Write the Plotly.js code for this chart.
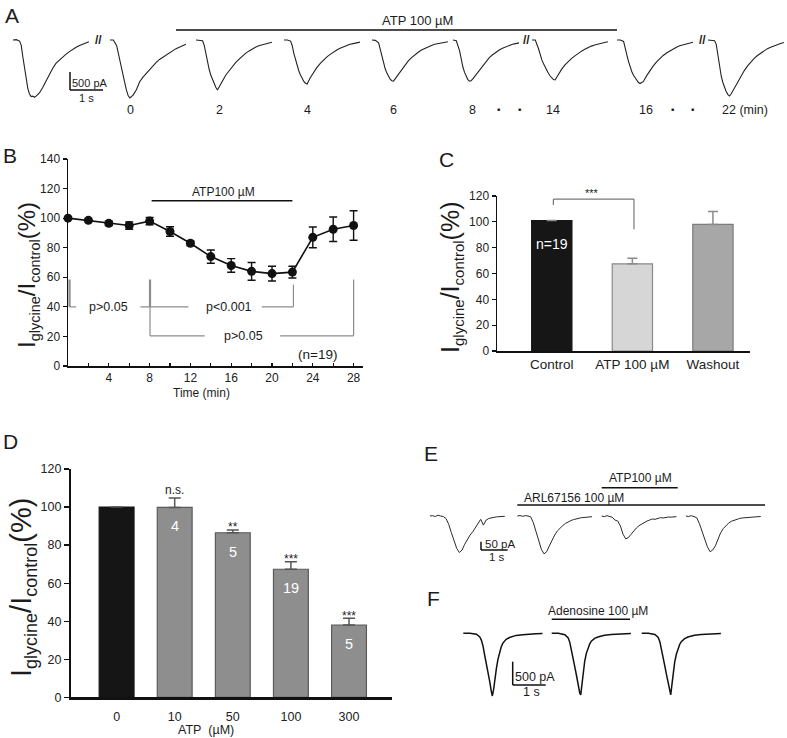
<!DOCTYPE html>
<html><head><meta charset="utf-8">
<script src="https://cdn.plot.ly/plotly-3.0.1.min.js"></script>
<style>html,body{margin:0;padding:0;background:#fff}#chart{width:787px;height:738px}</style>
</head><body><div id="chart"></div>
<script>
// ================= DATA =================
// Panel A: glycine-evoked currents (pA) sampled at these times (s) from sweep start
const sweepTimeA = [0,0.1,0.2,0.25,0.3,0.35,0.4,0.45,0.5,0.55,0.6,0.65,0.7,0.8,0.9,1.0,1.1,1.2,1.3,1.4,1.5,1.6,1.7,1.8,1.9,2.0,2.1,2.2,2.3];
const sweepA_pre = [0,10,-30,-150,-480,-820,-1120,-1350,-1500,-1570,-1560,-1590,-1560,-1470,-1320,-1130,-960,-790,-650,-560,-470,-400,-330,-260,-210,-160,-120,-80,-50];
const sweepA_0   = [0,0,-150,-380,-600,-800,-1000,-1200,-1400,-1540,-1610,-1580,-1530,-1380,-1160,-1030,-920,-810,-700,-620,-540,-480,-410,-350,-290,-240,-200,-150,-120];
const sweepA_2   = [0,0,-20,-150,-400,-620,-820,-980,-1100,-1220,-1310,-1390,-1300,-1130,-980,-860,-740,-630,-540,-450,-370,-310,-250,-200,-160,-130,-100,-80,-60];
const sweepA_4   = [0,0,-30,-160,-380,-560,-720,-860,-970,-1070,-1150,-1200,-1220,-1040,-880,-760,-650,-550,-470,-400,-330,-280,-230,-190,-150,-120,-100,-80,-60];
const sweepA_6   = [0,-10,-80,-260,-480,-650,-800,-920,-1020,-1090,-1130,-1140,-1080,-950,-810,-690,-580,-490,-410,-340,-280,-230,-190,-150,-120,-100,-80,-60,-50];
const sweepA_8   = [0,-20,-300,-550,-750,-900,-1020,-1100,-1140,-1130,-1080,-1020,-960,-830,-700,-590,-490,-410,-340,-280,-230,-190,-150,-120,-100,-80];
const sweepA_14  = [0,0,-250,-420,-560,-660,-760,-850,-930,-1000,-1060,-1100,-1110,-950,-810,-690,-590,-510,-440,-370,-310,-260,-210,-170,-140,-110,-90,-70,-50];
const sweepA_16  = [0,0,-40,-200,-420,-600,-760,-880,-980,-1060,-1130,-1180,-1210,-1150,-990,-850,-720,-610,-510,-430,-360,-300,-250,-200,-160,-130,-100,-80,-60];
const sweepA_22  = [0,0,-20,-120,-420,-760,-1000,-1180,-1320,-1430,-1510,-1556,-1500,-1330,-1150,-990,-850,-720,-610,-510,-430,-360,-300,-240,-200,-160,-130,-100,-70];
const sweepLabelsA = ['0','2','4','6','8','14','16','22 (min)'];

// Panel B: time course (mean ± SEM, % of control)
const timeB = [0,2,4,6,8,10,12,14,16,18,20,22,24,26,28];
const meanB = [100,98.5,96.5,95,98,91,83,74,68,64,62.5,63.5,87,92.5,95];
const semB  = [0.5,1,1.5,2.5,2.5,3.2,1.5,4.5,4.6,6,5,4,7,8.3,10];
const tickLabelsB = [4,8,12,16,20,24,28];

// Panel C: summary
const catsC = ['Control','ATP 100 µM','Washout'];
const valsC = [101,67.5,98];
const errC  = [null,4.3,10];

// Panel D: concentration dependence
const catsD = ['0','10','50','100','300'];
const valsD = [100,99.8,86.5,67.3,38];
const errD  = [null,5,1.5,4,3.5];
const nD    = ['','4','5','19','5'];
const sigD  = ['','n.s.','**','***','***'];

// Panel E: currents (pA) with ARL67156 / ATP
const sweepTimeE = [0,0.1,0.2,0.3,0.4,0.5,0.6,0.7,0.8,0.9,1.0,1.1,1.2,1.3,1.4,1.5,1.6,1.7,1.8,1.9,2.0,2.1,2.2,2.3,2.4,2.5,2.6,2.7,2.8];
const sweepE_ctrl = [0,2,-3,5,0,-3,-15,-50,-100,-150,-195,-220,-205,-170,-140,-115,-95,-70,-50,-20,-55,-25,-15,-10,-8,-5,-4,-3,-2];
const sweepE_arl  = [0,3,-2,2,0,-5,-40,-90,-150,-200,-228,-215,-180,-145,-115,-90,-72,-58,-45,-35,-28,-22,-17,-13,-10,-9,-6,-5,-4];
const sweepE_atp  = [0,-4,2,-3,-8,-25,-30,-60,-110,-138,-130,-110,-90,-72,-58,-48,-40,-30,-24,-18,-20,-14,-10,-12,-8,-6,-7,-4,-4];
const sweepE_wash = [0,-3,2,-2,-10,-45,-95,-140,-185,-215,-205,-180,-140,-100,-75,-55,-42,-32,-25,-20,-15,-12,-10,-9,-7,-5,-6,-4,-3];

// Panel F: currents (pA) with adenosine
const sweepTimeF = [0,0.2,0.4,0.5,0.55,0.6,0.65,0.7,0.75,0.8,0.85,0.88,0.92,0.96,1.0,1.05,1.1,1.15,1.2,1.3,1.4,1.5,1.6,1.8,2.0,2.2,2.4];
const sweepF_ctrl = [0,0,-20,-80,-150,-280,-480,-650,-830,-1030,-1250,-1345,-1200,-950,-770,-560,-400,-290,-210,-130,-90,-65,-45,-30,-15,-10,-5];
const sweepF_ado  = [0,0,-30,-100,-200,-350,-540,-720,-900,-1100,-1280,-1320,-1050,-800,-600,-430,-310,-230,-170,-110,-80,-55,-40,-25,-15,-8,-5];
const sweepF_wash = [0,0,-25,-90,-180,-330,-520,-700,-880,-1080,-1270,-1320,-1080,-830,-620,-450,-320,-240,-180,-115,-80,-55,-40,-25,-15,-8,-5];

// ================= LAYOUT HELPERS =================
const W = 787, H = 738;
const FONT = 'Liberation Sans, Arial, Helvetica, sans-serif';
const px = x => x / W, py = y => 1 - y / H;
function yRange(topPx, botPx, zeroPx, pxPerUnit){ return [-(botPx - zeroPx) / pxPerUnit, (zeroPx - topPx) / pxPerUnit]; }
const INK = '#1c1c1c';

// trace-panel geometry (pixel scales)
const A = {secPx:33, pAPx:18/500, zero:40, top:12, bot:122, starts:[13,110,196,284,372,453,532,617,708]};
const E = {left:420, secPx:26.7, pAPx:8.3/50, zero:516, top:468, bot:578, starts:[430,517.3,601.7,686]};
const F = {left:420, secPx:33, pAPx:23.3/500, zero:633.3, top:598, bot:718, starts:[463.3,551.7,641.7]};

const traces = [];
const sweepsA = [sweepA_pre,sweepA_0,sweepA_2,sweepA_4,sweepA_6,sweepA_8,sweepA_14,sweepA_16,sweepA_22];
sweepsA.forEach((v,i)=>{
  const off = A.starts[i]/A.secPx;
  traces.push({type:'scatter',mode:'lines',xaxis:'x',yaxis:'y',
    x: sweepTimeA.slice(0,v.length).map(t=>t+off), y: v,
    line:{color:'#222',width:1.1},hoverinfo:'skip',showlegend:false});
});
[sweepE_ctrl,sweepE_arl,sweepE_atp,sweepE_wash].forEach((v,i)=>{
  const off = (E.starts[i]-E.left)/E.secPx;
  traces.push({type:'scatter',mode:'lines',xaxis:'x5',yaxis:'y5',
    x: sweepTimeE.map(t=>t+off), y: v, line:{color:'#2a2a2a',width:1},hoverinfo:'skip',showlegend:false});
});
[sweepF_ctrl,sweepF_ado,sweepF_wash].forEach((v,i)=>{
  const off = (F.starts[i]-F.left)/F.secPx;
  traces.push({type:'scatter',mode:'lines',xaxis:'x6',yaxis:'y6',
    x: sweepTimeF.map(t=>t+off), y: v, line:{color:'#111',width:1.5},hoverinfo:'skip',showlegend:false});
});
// Panel B
traces.push({type:'scatter',mode:'lines+markers',xaxis:'x2',yaxis:'y2',x:timeB,y:meanB,
  line:{color:'#111',width:1.6},marker:{color:'#111',size:9},
  error_y:{type:'data',array:semB,color:'#111',thickness:1.4,width:4},cliponaxis:false,showlegend:false});
// Panel C
traces.push({type:'bar',xaxis:'x3',yaxis:'y3',x:[0,1,2],y:valsC,width:0.5,
  marker:{color:['#161616','#d6d6d6','#a7a7a7'],line:{color:['#161616','#8a8a8a','#7c7c7c'],width:1.2}},
  error_y:{type:'data',symmetric:false,array:errC,arrayminus:[0,0,0],color:'#8a8a8a',thickness:1.5,width:5},showlegend:false});
// Panel D
traces.push({type:'bar',xaxis:'x4',yaxis:'y4',x:[0,1,2,3,4],y:valsD,width:0.6,
  marker:{color:['#151515','#8e8e8e','#8e8e8e','#8e8e8e','#8e8e8e'],line:{color:['#151515','#5a5a5a','#5a5a5a','#5a5a5a','#5a5a5a'],width:1.2}},
  error_y:{type:'data',symmetric:false,array:errD,arrayminus:[0,0,0,0,0],color:'#555',thickness:1.5,width:6},showlegend:false});

// ================= AXES =================
const hid = (domain, range, anchor) => ({domain, range, anchor, visible:false, fixedrange:true});
const axBase = {showline:true, linecolor:'#111', showgrid:false, zeroline:false, tickcolor:'#111',
  tickfont:{family:FONT,size:12,color:'#222'}, fixedrange:true};

const layout = {
  width:W, height:H, margin:{l:0,r:0,t:0,b:0}, paper_bgcolor:'#fff', plot_bgcolor:'rgba(0,0,0,0)',
  font:{family:FONT,color:INK}, showlegend:false, bargap:0,
  xaxis: hid([0,1],[0,W/A.secPx],'y'),
  yaxis: hid([py(A.bot),py(A.top)], yRange(A.top,A.bot,A.zero,A.pAPx),'x'),
  xaxis5: hid([px(E.left),1],[0,(W-E.left)/E.secPx],'y5'),
  yaxis5: hid([py(E.bot),py(E.top)], yRange(E.top,E.bot,E.zero,E.pAPx),'x5'),
  xaxis6: hid([px(F.left),1],[0,(W-F.left)/F.secPx],'y6'),
  yaxis6: hid([py(F.bot),py(F.top)], yRange(F.top,F.bot,F.zero,F.pAPx),'x6'),
  xaxis2: Object.assign({}, axBase, {domain:[px(68),px(363)], range:[0,(363-68)/10.2], anchor:'y2', linewidth:1.5,
    ticks:'inside', ticklen:3, tickwidth:1.2, tickvals:tickLabelsB,
    minor:{tickvals:timeB, ticks:'inside', ticklen:3, tickwidth:1.2, tickcolor:'#111', showgrid:false}}),
  yaxis2: Object.assign({}, axBase, {domain:[py(366),py(159)], range:[0,140], anchor:'x2', linewidth:1.5,
    ticks:'outside', ticklen:4, tickwidth:1.2, tickvals:[0,20,40,60,80,100,120,140]}),
  xaxis3: Object.assign({}, axBase, {domain:[px(497),px(750)], range:[-0.68,2.46], anchor:'y3', linewidth:1.5,
    ticks:'', tickvals:[0,1,2], ticktext:catsC, tickfont:{family:FONT,size:13.5,color:'#222'}}),
  yaxis3: Object.assign({}, axBase, {domain:[py(351),py(196)], range:[0,120], anchor:'x3', linewidth:1.5,
    ticks:'outside', ticklen:4, tickwidth:1.2, tickvals:[0,20,40,60,80,100,120]}),
  xaxis4: Object.assign({}, axBase, {domain:[px(70.7),px(392)], range:[-0.79,4.74], anchor:'y4', linewidth:2.5,
    ticks:'', tickvals:[0,1,2,3,4], ticktext:catsD, ticklabelstandoff:6, tickfont:{family:FONT,size:12.5,color:'#222'}}),
  yaxis4: Object.assign({}, axBase, {domain:[py(697.3),py(469)], range:[0,120], anchor:'x4', linewidth:1.8,
    ticks:'outside', ticklen:5, tickwidth:1.3, tickvals:[0,20,40,60,80,100,120], tickfont:{family:FONT,size:12.5,color:'#222'}}),
  shapes:[], annotations:[]
};

// ================= SHAPES =================
const S = layout.shapes;
function pline(x0,y0,x1,y1,color='#111',w=1.5){S.push({type:'line',xref:'paper',yref:'paper',x0:px(x0),y0:py(y0),x1:px(x1),y1:py(y1),line:{color,width:w}});}
function aline(xr,yr,x0,y0,x1,y1,color='#111',w=1.5){S.push({type:'line',xref:xr,yref:yr,x0,y0,x1,y1,line:{color,width:w}});}
// Panel A: ATP application bar, scale bar
pline(176,30,617,30,'#111',1.5);
{ const sx=70/A.secPx, sy=-(90-A.zero)/A.pAPx; aline('x','y',sx,sy,sx,sy+500,'#111',1.5); aline('x','y',sx,sy,sx+1,sy,'#111',1.5); }
// Panel B: ATP bar and statistics brackets
aline('x2','y2',8.2,111.7,22,111.7,'#111',1.5);
const G='#8c8c8c';
aline('x2','y2',0.15,58.5,0.15,40,G,2.2);
aline('x2','y2',0.15,40,0.8,40,G,1.2);
aline('x2','y2',7.1,40,11.8,40,G,1.2);
aline('x2','y2',8.04,58.5,8.04,40,G,2.2);
aline('x2','y2',8.04,40,8.04,20.4,G,1.2);
aline('x2','y2',8.04,20.4,13.4,20.4,G,1.2);
aline('x2','y2',20.8,20.4,28,20.4,G,1.2);
aline('x2','y2',28,20.4,28,58.5,G,1.2);
aline('x2','y2',19.0,40,22.1,40,G,1.2);
aline('x2','y2',22.1,40,22.1,55,G,1.2);
// Panel C: significance bracket
aline('x3','y3',0.02,113,0.02,117.6,'#777',1.2);
aline('x3','y3',0.02,117.6,1.02,117.6,'#777',1.2);
aline('x3','y3',1.02,117.6,1.02,94.2,'#777',1.2);
// Panel E: drug bars + scale
pline(517.3,505,765,505,'#111',1.5);
pline(601.7,487.7,677.7,487.7,'#111',1.5);
{ const sx=(481-E.left)/E.secPx, sy=-(550-E.zero)/E.pAPx; aline('x5','y5',sx,sy,sx,sy+50,'#111',1.5); aline('x5','y5',sx,sy,sx+1,sy,'#111',1.5); }
// Panel F: adenosine bar + scale
pline(551.7,619.3,630,619.3,'#111',1.5);
{ const sx=(512.7-F.left)/F.secPx, sy=-(685-F.zero)/F.pAPx; aline('x6','y6',sx,sy,sx,sy+500,'#111',1.5); aline('x6','y6',sx,sy,sx+1,sy,'#111',1.5); }

// ================= TEXT =================
const N = layout.annotations;
function pt(x,y,text,size,o={}){N.push(Object.assign({xref:'paper',yref:'paper',x:px(x),y:py(y),text,showarrow:false,
  font:{family:FONT,size,color:INK},xanchor:'center',yanchor:'middle'},o));}
function at(xr,yr,x,y,text,size,o={}){N.push(Object.assign({xref:xr,yref:yr,x,y,text,showarrow:false,
  font:{family:FONT,size,color:INK},xanchor:'center',yanchor:'middle'},o));}
// panel letters
[['A',11.5,14.5],['B',9.5,154.5],['C',446.5,158.5],['D',10,440],['E',430.5,452.5],['F',433,597.5]]
  .forEach(([t,x,y])=>pt(x,y+1,t,21));
// Panel A
pt(418,20,'ATP 100 µM',13);
const labelPxA = [130,219,307,393,472,553,646,745];
sweepLabelsA.forEach((t,i)=>pt(labelPxA[i],110,t,12.5));
[[98,40],[526,40],[702,40]].forEach(([x,y])=>pt(x,y,'<b>//</b>',12));
[[498,109],[519,109],[672,109],[692,109]].forEach(([x,y])=>pt(x,y,'■',5));
pt(89.7,83,'500 pA',11); pt(86.7,98,'1 s',11);
// y titles
const ytitle = (small) => `I<sub><span style="font-size:${small}px">glycine</span></sub>/I<sub><span style="font-size:${small}px">control</span></sub>(%)`;
pt(28,275,ytitle(14.5),24,{textangle:-90});
pt(451.5,277.5,ytitle(15),25,{textangle:-90});
pt(23,588,ytitle(18),29,{textangle:-90});
// Panel B text
at('x2','y2',15.2,118,'ATP100 µM',12);
at('x2','y2',4.0,40,'p>0.05',12.5);
at('x2','y2',15.8,40,'p<0.001',12.5);
at('x2','y2',17.2,20.4,'p>0.05',12.5);
at('x2','y2',24.5,8,'(n=19)',13.5);
pt(201.7,393,'Time (min)',12);
// Panel C text
at('x3','y3',0,83,'n=19',14,{font:{family:FONT,size:14,color:'#fff'}});
pt(591.7,193,'***',11);
// Panel D text
nD.forEach((t,i)=>{ if(t) at('x4','y4',i,valsD[i]-10,t,14.5,{font:{family:FONT,size:14.5,color:'#fff'}}); });
sigD.forEach((t,i)=>{ if(!t) return; const top=valsD[i]+(errD[i]||0);
  at('x4','y4',i,top+(t==='n.s.'?4.2:3.5),t,12,{yshift:t==='n.s.'?0:-4}); });
pt(205.7,730,'ATP\u00a0 (µM)',12.5);
// Panel E text
pt(640,478.3,'ATP100 µM',12);
pt(521.7,498.3,'ARL67156 100 µM',12,{xanchor:'left'});
pt(483,544,'50 pA',11.5,{xanchor:'left'});
pt(496.7,557,'1 s',11.5);
// Panel F text
pt(598.3,611,'Adenosine 100 µM',12);
pt(535,676.7,'500 pA',12.5);
pt(531.7,691.7,'1 s',12.5);

Plotly.newPlot('chart', traces, layout, {staticPlot:true, displayModeBar:false});
</script></body></html>
